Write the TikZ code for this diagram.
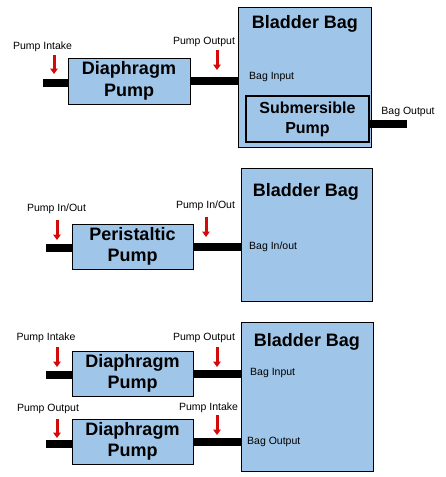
\documentclass[tikz,border=0pt]{standalone}
\usepackage{fontspec}
\setmainfont{Liberation Sans}
\usetikzlibrary{arrows.meta}
\definecolor{boxblue}{RGB}{159,197,232}
\definecolor{arrowred}{RGB}{210,10,10}

\tikzset{
  pumpbox/.style={draw=black, fill=boxblue, line width=0.8pt, minimum width=121pt, minimum height=45pt,
    align=center, inner sep=0pt, font=\fontsize{18}{21.5}\selectfont\bfseries},
  bagbox/.style={draw=black, fill=boxblue, line width=0.8pt, inner sep=0pt},
  bagtitle/.style={font=\fontsize{18}{19}\selectfont\bfseries, inner sep=0pt},
  smalltxt/.style={font=\fontsize{10.5}{12}\selectfont, inner sep=0pt},
  pipe/.style={line width=8pt, black},
  flowarrow/.style={draw=arrowred, line width=3pt, -{Triangle[width=7.5pt,length=5.5pt]}},
}

\begin{document}
\begin{tikzpicture}[x=1pt,y=-1pt]
\useasboundingbox (0,0) rectangle (446,477);

% --- diaphragm pump feeding a bag with a submersible pump
\node[bagbox, minimum width=133pt, minimum height=140pt] (bagA) at (304.5,77) {};
\node[bagtitle] (titleA) at (305,24) {Bladder Bag};
\node[smalltxt, anchor=west] (bagInA) at (249,77) {Bag Input};
\node[pumpbox, line width=1.8pt, minimum width=123pt, minimum height=46pt,
  font=\fontsize{16}{20}\selectfont\bfseries] (subpump) at (307.5,119) {Submersible\\Pump};
\node[pumpbox, minimum width=122pt, minimum height=46pt] (diaA) at (129,81) {Diaphragm\\Pump};
\coordinate (inA) at (43,83);
\coordinate (outA) at (407,124);
\draw[pipe] (inA) -- (inA -| diaA.west);
\draw[pipe] (diaA.east) -- (diaA.east -| bagA.west);
\draw[pipe] (outA -| subpump.east) -- (outA);
\node[smalltxt] (lblInA) at (42.5,47) {Pump Intake};
\node[smalltxt] (lblOutA) at (204,42) {Pump Output};
\node[smalltxt] (lblBagOutA) at (408,112) {Bag Output};
\coordinate (arInA) at (54,55);
\coordinate (arOutA) at (217,50);
\draw[flowarrow] (arInA) -- ++(0,19);
\draw[flowarrow] (arOutA) -- ++(0,20);

% --- peristaltic pump, one port both ways
\node[bagbox, minimum width=131pt, minimum height=133pt] (bagB) at (306.5,234.5) {};
\node[bagtitle] (titleB) at (306,192) {Bladder Bag};
\node[smalltxt, anchor=west] (bagInOutB) at (249,247) {Bag In/out};
\node[pumpbox] (periB) at (132.5,246.5) {Peristaltic\\Pump};
\coordinate (inB) at (46,248);
\draw[pipe] (inB) -- (inB -| periB.west);
\draw[pipe] (periB.east) -- (periB.east -| bagB.west);
\node[smalltxt] (lblInB) at (56.5,209) {Pump In/Out};
\node[smalltxt] (lblOutB) at (205.5,206) {Pump In/Out};
\coordinate (arInB) at (57,220);
\coordinate (arOutB) at (206,217);
\draw[flowarrow] (arInB) -- ++(0,20);
\draw[flowarrow] (arOutB) -- ++(0,20);

% --- two diaphragm pumps, filling and emptying
\node[bagbox, minimum width=132pt, minimum height=149pt] (bagC) at (307,396.5) {};
\node[bagtitle] (titleC) at (307,342) {Bladder Bag};
\node[smalltxt, anchor=west] (bagInC) at (250,373) {Bag Input};
\node[smalltxt, anchor=west] (bagOutC) at (247,442) {Bag Output};
\node[pumpbox] (diaC) at (132.5,373.5) {Diaphragm\\Pump};
\node[pumpbox] (diaD) at (132.5,441.5) {Diaphragm\\Pump};
\coordinate (inC) at (46,375);
\coordinate (inD) at (46,444);
\draw[pipe] (inC) -- (inC -| diaC.west);
\draw[pipe] (diaC.east) -- (diaC.east -| bagC.west);
\draw[pipe] (inD) -- (inD -| diaD.west);
\draw[pipe] (diaD.east) -- (diaD.east -| bagC.west);
\node[smalltxt] (lblInC) at (46,338) {Pump Intake};
\node[smalltxt] (lblOutC) at (204,338) {Pump Output};
\node[smalltxt] (lblOutD) at (48,409) {Pump Output};
\node[smalltxt] (lblInD) at (208.5,408) {Pump Intake};
\coordinate (arInC) at (57,347);
\coordinate (arOutC) at (217,347);
\coordinate (arOutD) at (57,419);
\coordinate (arInD) at (217,415);
\draw[flowarrow] (arInC) -- ++(0,20);
\draw[flowarrow] (arOutC) -- ++(0,20);
\draw[flowarrow] (arOutD) -- ++(0,19);
\draw[flowarrow] (arInD) -- ++(0,20);
\end{tikzpicture}
\end{document}
